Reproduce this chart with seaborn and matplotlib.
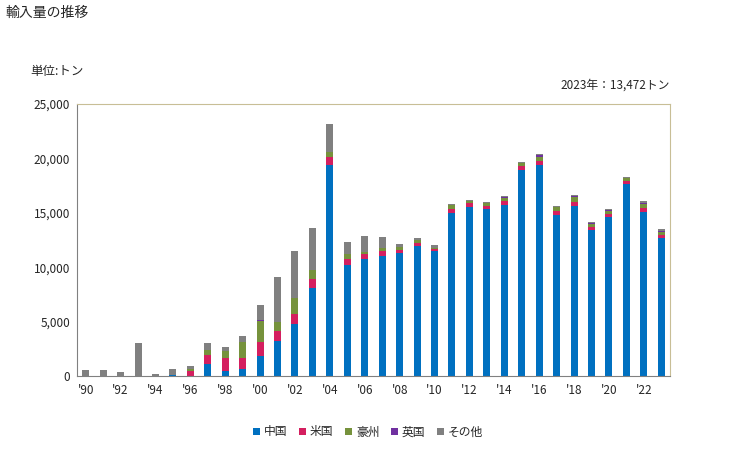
import matplotlib
matplotlib.use("Agg")
import matplotlib.pyplot as plt
from matplotlib.patches import Patch
import numpy as np
import pandas as pd
import seaborn as sns

# 年と国別の輸入量(トン)
years = list(range(1990, 2024))
china = [0, 0, 0, 0, 0, 100, 0, 1130, 490, 610, 1870, 3220, 4810, 8120, 19390,
         10170, 10720, 11030, 11270, 11950, 11460, 14980, 15530, 15350, 15720,
         18930, 19360, 14770, 15620, 13450, 14580, 17680, 15070, 12672]
usa = [0, 0, 0, 0, 0, 0, 490, 830, 1190, 1070, 1290, 920, 920, 800, 735,
       550, 460, 430, 310, 250, 180, 370, 370, 280, 370,
       370, 400, 400, 370, 250, 310, 250, 370, 250]
aus = [0, 0, 0, 0, 0, 0, 150, 460, 640, 1470, 1870, 860, 1470, 860, 490,
       490, 210, 280, 250, 280, 150, 370, 180, 250, 250,
       250, 370, 370, 460, 310, 280, 310, 370, 280]
uk = [0, 0, 0, 0, 0, 0, 0, 0, 0, 0, 90, 0, 0, 0, 0,
      0, 0, 0, 0, 0, 0, 0, 0, 0, 90,
      0, 150, 0, 120, 90, 90, 0, 90, 90]
other = [550, 550, 400, 3060, 210, 570, 300, 640, 370, 550, 1440, 4100, 4290, 3860, 2540,
         1130, 1440, 1010, 280, 180, 210, 120, 90, 100, 120,
         120, 120, 90, 90, 90, 90, 60, 180, 180]

series = ["中国", "米国", "豪州", "英国", "その他"]
colors = ["#0070C0", "#D41F5F", "#76923C", "#7030A0", "#808080"]

df = pd.DataFrame({"年": years, "中国": china, "米国": usa, "豪州": aus,
                   "英国": uk, "その他": other})
df["年"] = df["年"].astype(str)

sns.set_style("white")
plt.rcParams["font.family"] = ["Noto Sans CJK JP", "DejaVu Sans"]

fig = plt.figure(figsize=(7.29, 4.5), dpi=100)
ax = fig.add_axes([0.1056, 0.1644, 0.8134, 0.6044])

# 積み上げ: 合計から順に上書き
cum = df[series].cumsum(axis=1)
for i in range(len(series) - 1, -1, -1):
    sns.barplot(x=df["年"], y=cum[series[i]], color=colors[i], width=0.4,
                saturation=1, ax=ax, linewidth=0)

ax.set_xlim(-0.5, len(years) - 0.5)
ax.set_ylim(0, 25000)
ax.set_yticks(np.arange(0, 25001, 5000))
ax.set_yticklabels([f"{v:,}" for v in range(0, 25001, 5000)], fontsize=8.5)
ax.set_xticks(range(0, len(years), 2))
ax.set_xticklabels([f"'{str(y)[2:]}" for y in years[::2]], fontsize=8.5)
ax.set_xlabel("")
ax.set_ylabel("")

for s in ["left", "bottom"]:
    ax.spines[s].set_color("#808080")
for s in ["top", "right"]:
    ax.spines[s].set_color("#C8BE96")
ax.tick_params(axis="y", length=3, color="#808080", pad=2)
ax.tick_params(axis="x", length=0, pad=6)

fig.text(0.007, 0.972, "輸入量の推移", fontsize=10, va="center", ha="left")
fig.text(0.041, 0.84, "単位:トン", fontsize=9, va="center", ha="left")
fig.text(0.919, 0.81, "2023年：13,472トン", fontsize=8.5, va="center", ha="right")

handles = [Patch(facecolor=c, edgecolor="none", label=s) for s, c in zip(series, colors)]
fig.legend(handles=handles, loc="center", bbox_to_anchor=(0.505, 0.04), ncol=5,
           frameon=False, fontsize=8.5, handlelength=0.6, handleheight=0.6,
           handletextpad=0.3, columnspacing=1.0)

fig.savefig("out.png", dpi=100)
